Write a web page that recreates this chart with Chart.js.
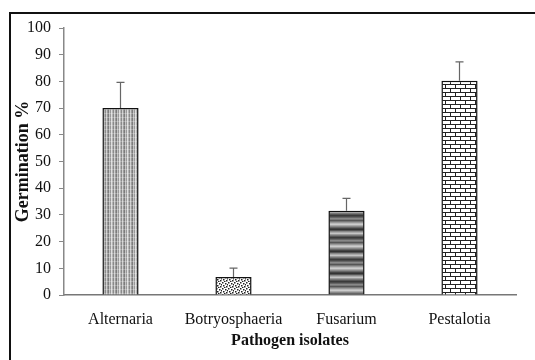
<!DOCTYPE html>
<html>
<head>
<meta charset="utf-8">
<script src="https://cdn.jsdelivr.net/npm/chart.js@4/dist/chart.umd.min.js"></script>
<style>
  body { margin: 0; background: #fff; }
  #wrap { position: relative; width: 535px; height: 360px; }
  #frame { position: absolute; left: 9px; top: 12px; right: 0; bottom: 0;
           border-left: 2px solid #111; border-top: 2px solid #111; pointer-events: none; }
</style>
</head>
<body>
<div id="wrap">
  <canvas id="ctx" width="535" height="360"></canvas>
  <div id="frame"></div>
</div>
<script>
'use strict';
const labels = ['Alternaria', 'Botryosphaeria', 'Fusarium', 'Pestalotia'];
const germination = [70, 6.7, 31.6, 80.2];
const errors = [9.6, 3.4, 4.6, 7.1];
const yTicks = [0, 10, 20, 30, 40, 50, 60, 70, 80, 90, 100];

function makePattern(w, h, draw) {
  const c = document.createElement('canvas');
  c.width = w; c.height = h;
  const g = c.getContext('2d');
  draw(g);
  return c.getContext('2d').createPattern(c, 'repeat');
}

// vertical gray stripes
const vertPat = makePattern(8, 4, g => {
  const cols = ['#b4b4b4', '#8a8a8a', '#cfcfcf', '#9c9c9c', '#7c7c7c', '#c4c4c4', '#989898', '#dedede'];
  cols.forEach((c, i) => { g.fillStyle = c; g.fillRect(i, 0, 1, 4); });
  g.fillStyle = 'rgba(255,255,255,0.25)';
  g.fillRect(0, 1, 8, 1);
});
// speckled dots
const dotPat = makePattern(6, 6, g => {
  g.fillStyle = '#fff'; g.fillRect(0, 0, 6, 6);
  g.fillStyle = '#222';
  [[0,0],[3,1],[1,3],[4,4],[2,5],[5,2]].forEach(p => g.fillRect(p[0], p[1], 1.5, 1.5));
});
// horizontal dark stripes
const horizPat = makePattern(4, 22, g => {
  const rows = ['#555','#777','#999','#bbb','#ccc','#aaa','#888','#666','#444','#333','#555',
                '#888','#aaa','#c4c4c4','#999','#777','#555','#3a3a3a','#4a4a4a','#666','#888','#777'];
  rows.forEach((c, i) => { g.fillStyle = c; g.fillRect(0, i, 4, 1); });
});
// brick
const brickPat = makePattern(10, 8, g => {
  g.fillStyle = '#fff'; g.fillRect(0, 0, 10, 8);
  g.fillStyle = '#222';
  g.fillRect(0, 0, 10, 1);
  g.fillRect(0, 4, 10, 1);
  g.fillRect(0, 0, 1, 4);
  g.fillRect(5, 4, 1, 4);
});

const errorBars = {
  id: 'errorBars',
  afterDatasetsDraw(chart) {
    const ctx = chart.ctx;
    const y = chart.scales.y;
    const meta = chart.getDatasetMeta(0);
    ctx.save();
    ctx.strokeStyle = '#666';
    ctx.lineWidth = 1.2;
    meta.data.forEach((bar, i) => {
      const top = y.getPixelForValue(germination[i] + errors[i]);
      ctx.beginPath();
      ctx.moveTo(bar.x, bar.y);
      ctx.lineTo(bar.x, top);
      ctx.moveTo(bar.x - 4, top);
      ctx.lineTo(bar.x + 4, top);
      ctx.stroke();
    });
    ctx.restore();
  }
};

const serif = "'Liberation Serif', 'DejaVu Serif', serif";

new Chart(document.getElementById('ctx'), {
  type: 'bar',
  data: {
    labels: labels,
    datasets: [{
      data: germination,
      backgroundColor: [vertPat, dotPat, horizPat, brickPat],
      borderColor: '#111',
      borderWidth: 1.5,
      categoryPercentage: 1,
      barPercentage: 0.32
    }]
  },
  options: {
    responsive: false,
    animation: false,
    layout: { padding: { left: 9, top: 28, right: 19, bottom: 0 } },
    plugins: { legend: { display: false }, tooltip: { enabled: false } },
    scales: {
      x: {
        grid: { display: false },
        border: { color: '#777', width: 1.5 },
        ticks: { color: '#111', font: { family: serif, size: 16 }, padding: 7 },
        title: { display: true, text: 'Pathogen isolates', color: '#111',
                 font: { family: serif, size: 16, weight: 'bold' }, padding: { top: 0, bottom: 10 } },
        afterFit: s => { s.height = 65; }
      },
      y: {
        min: 0, max: 100,
        afterBuildTicks: s => { s.ticks = yTicks.map(v => ({ value: v })); },
        grid: { drawOnChartArea: false, drawTicks: true, tickLength: 5, color: '#888' },
        border: { color: '#888', width: 1.5 },
        ticks: { color: '#111', font: { family: serif, size: 16 }, padding: 8 },
        title: { display: true, text: 'Germination %', color: '#111',
                 font: { family: serif, size: 18, weight: 'bold' }, padding: { top: 4, bottom: 4 } },
        afterFit: s => { s.width = 55; }
      }
    }
  },
  plugins: [errorBars]
});
</script>
</body>
</html>
